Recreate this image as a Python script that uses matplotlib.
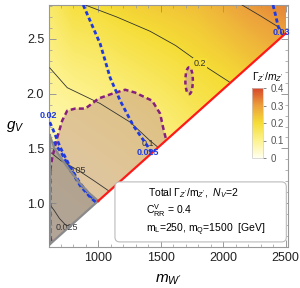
import numpy as np
import matplotlib
matplotlib.use('Agg')
import matplotlib.pyplot as plt
from matplotlib.colors import LinearSegmentedColormap, Normalize
from matplotlib.patches import Polygon, Ellipse, FancyBboxPatch
from matplotlib.cm import ScalarMappable

plt.rcParams['font.family'] = ['Liberation Sans', 'DejaVu Sans']
plt.rcParams['mathtext.fontset'] = 'custom'
plt.rcParams['mathtext.rm'] = 'Liberation Sans'
plt.rcParams['mathtext.it'] = 'Liberation Sans:italic'

m_nodes = [600, 800, 1000, 1200, 1400, 1600, 1800, 2000, 2200, 2400, 2600]
g_nodes = [0.6, 1.0, 1.4, 1.8, 2.2, 2.6, 3.0]
width_table = [
    [.005, .010, .020, .030, .040, .050, .060, .070, .080, .090, .100],
    [.025, .036, .045, .055, .065, .080, .100, .115, .130, .145, .155],
    [.047, .057, .068, .078, .090, .110, .130, .150, .165, .180, .190],
    [.073, .083, .093, .102, .120, .140, .162, .180, .195, .210, .225],
    [.098, .117, .128, .145, .160, .175, .192, .205, .225, .245, .260],
    [.123, .163, .172, .190, .203, .215, .228, .250, .275, .295, .310],
    [.148, .210, .220, .240, .250, .260, .270, .300, .330, .350, .365],
]

# black contour lines of Gamma/m
contours = {
    '0.025': [(612, 0.99), (650, 0.93), (690, 0.86), (740, 0.80), (776, 0.79)],
    '0.05': [(612, 1.47), (700, 1.39), (840, 1.30), (960, 1.21), (1088, 1.11)],
    '0.1': [(612, 2.236), (752, 2.055), (1016, 1.91), (1256, 1.74), (1416, 1.57), (1480, 1.51)],
    '0.2': [(896, 2.81), (1150, 2.70), (1416, 2.57), (1620, 2.44), (1816, 2.28), (2060, 2.10)],
    '0.3': [(2152, 2.81), (2300, 2.71), (2456, 2.60), (2475, 2.53)],
}
contour_labels = {'0.025': (752, 0.78), '0.05': (832, 1.30), '0.1': (1400, 1.545), '0.2': (1816, 2.28)}

# blue dashed curves
blue_curves = {
    '0.025': [(880, 2.81), (1016, 2.455), (1096, 2.145), (1176, 1.936), (1280, 1.71), (1392, 1.527), (1425, 1.46)],
    '0.02': [(612, 1.74), (632, 1.69), (696, 1.51), (776, 1.33), (856, 1.18), (936, 1.07), (985, 1.005)],
    '0.02b': [(640, 1.56), (700, 1.47), (776, 1.31), (856, 1.16), (936, 1.055), (985, 1.005)],
    '0.03': [(2400, 2.81), (2420, 2.72), (2440, 2.62), (2455, 2.57)],
}
blue_labels = {'0.025': (1400, 1.464), '0.02': (600, 1.80), '0.03': (2466, 2.555)}

# purple dashed region boundary
purple_edge = [(616, 1.30), (632, 1.418), (672, 1.60), (712, 1.755), (752, 1.845), (816, 1.864),
               (896, 1.864), (952, 1.91), (1000, 1.955), (1112, 2.0), (1216, 2.036), (1296, 2.01),
               (1432, 1.936), (1496, 1.818), (1520, 1.69), (1545, 1.576)]
island = (1728, 2.118, 60, 0.245)

# gray region boundary curve
gray_edge = [(612, 1.62), (650, 1.50), (744, 1.345), (848, 1.19), (920, 1.10), (1000, 1.02)]

m_min, m_max, g_max = 612, 2500, 2.8
slope = 1.02e-3  # lower kinematic edge g = slope*m

cmap = LinearSegmentedColormap.from_list(
    'solar', [(0, '#fffff0'), (0.25, '#fdf28e'), (0.5, '#f5dd36'), (0.75, '#eca03c'), (1.0, '#d6472a')])
norm = Normalize(0, 0.4)

fig = plt.figure(figsize=(3.0, 2.88), dpi=100)
ax = fig.add_axes([49 / 300, 1 - 247 / 288, 239 / 300, 242 / 288])

dm = m_nodes[1] - m_nodes[0]
dg = g_nodes[1] - g_nodes[0]
im = ax.imshow(np.array(width_table), origin='lower', cmap=cmap, norm=norm, aspect='auto',
               interpolation='bilinear',
               extent=[m_nodes[0] - dm / 2, m_nodes[-1] + dm / 2, g_nodes[0] - dg / 2, g_nodes[-1] + dg / 2],
               zorder=0)
domain = Polygon([(m_min, slope * m_min), (m_min, g_max), (m_max, g_max), (m_max, slope * m_max)],
                 closed=True, transform=ax.transData, facecolor='none', edgecolor='none')
ax.add_patch(domain)
im.set_clip_path(domain)

# purple region (tan fill)
p_poly = purple_edge + [(630, slope * 630), (616, 0.75)]
ax.add_patch(Polygon(p_poly, closed=True, facecolor='#cca58c', alpha=0.6, edgecolor='none', zorder=1))
px, py = zip(*purple_edge)
ax.plot(px, py, color='#86207e', lw=1.8, ls=(0, (2, 1.3)), zorder=4)
ax.plot([616, 616, 626], [1.30, 0.70, 0.645], color='#86207e', lw=1.8, ls=(0, (2, 1.3)), zorder=4)
mc, gc, w, h = island
ax.add_patch(Ellipse((mc, gc), w, h, facecolor='#cca58c', alpha=0.6, edgecolor='none', zorder=1))
ax.add_patch(Ellipse((mc, gc), w, h, facecolor='none', edgecolor='#86207e', lw=1.8,
                     ls=(0, (1.6, 1.3)), zorder=4))

# gray region
g_poly = gray_edge + [(m_min, slope * m_min)]
ax.add_patch(Polygon(g_poly, closed=True, facecolor='#7a7a7a', alpha=0.45, edgecolor='none', zorder=2))
gx, gy = zip(*gray_edge)
ax.plot(gx, gy, color='#8a8a8a', lw=1.6, zorder=5)
ax.plot([m_min, m_min], [slope * m_min, 1.62], color='#8a8a8a', lw=1.6, zorder=5)
ax.plot([m_min, 1000], [slope * m_min, slope * 1000], color='#8a8a8a', lw=1.6, zorder=5)

# black contours
for lev, pts in contours.items():
    x, y = zip(*pts)
    ax.plot(x, y, color='#333333', lw=0.6, zorder=3)
for lev, (x, y) in contour_labels.items():
    bb = dict(boxstyle='square,pad=0.05', fc=cmap(norm(float(lev))), ec='none') if lev == '0.2' else None
    ax.text(x, y, lev, fontsize=6.5, color='#333333', ha='center', va='center', bbox=bb, zorder=3.5)

# blue curves
for name, pts in blue_curves.items():
    x, y = zip(*pts)
    ax.plot(x, y, color='#1f3be0', lw=2.0, ls=(0, (1.5, 1.0)), zorder=4.5)
for lev, (x, y) in blue_labels.items():
    ax.text(x, y, lev, fontsize=6.5, color='#1f3be0', fontweight='bold', ha='center', va='center',
            zorder=6, clip_on=False)

# kinematic edge
ax.plot([1000, m_max], [slope * 1000, slope * m_max], color='#ff1a1a', lw=1.6, zorder=5)

ax.set_xlim(606, 2520)
ax.set_ylim(0.6, 2.81)
ax.set_xticks([1000, 1500, 2000, 2500])
ax.set_xticks(np.arange(700, 2520, 100), minor=True)
ax.set_yticks([1.0, 1.5, 2.0, 2.5])
ax.set_yticks(np.arange(0.7, 2.81, 0.1), minor=True)
ax.tick_params(which='both', direction='in', top=True, right=True, color='#999999', labelsize=9,
               labelcolor='#222222')
ax.tick_params(which='major', length=5, width=0.7)
ax.tick_params(which='minor', length=2.5, width=0.5)
for s in ax.spines.values():
    s.set_color('#999999')
    s.set_linewidth(0.8)

ax.set_xlabel(r"$m_{W'}$", fontsize=11, labelpad=6)
fig.text(15 / 300, 1 - 127 / 288, r"$g_V$", fontsize=11, ha='center', va='center')

# legend box
ax.add_patch(FancyBboxPatch((0.276, 0.021), 0.717, 0.248, boxstyle='round,pad=0,rounding_size=0.02',
                            transform=ax.transAxes, facecolor='white', edgecolor='#bbbbbb', lw=0.8,
                            zorder=7))
ax.text(0.414, 0.223, r"Total $\Gamma_{Z'}/\mathrm{m}_{Z'}$,  $N_V$=2", transform=ax.transAxes,
        fontsize=7.5, va='center', zorder=8)
ax.text(0.404, 0.150, r"C$^{\mathrm{V}}_{\mathrm{RR}}$ = 0.4", transform=ax.transAxes,
        fontsize=7.5, va='center', zorder=8)
ax.text(0.404, 0.070, r"m$_{\mathrm{L}}$=250, m$_{\mathrm{Q}}$=1500  [GeV]", transform=ax.transAxes,
        fontsize=7.5, va='center', zorder=8)

# colour bar
cax = fig.add_axes([252 / 300, 1 - 158 / 288, 11 / 300, 70 / 288])
cb = fig.colorbar(ScalarMappable(norm=norm, cmap=cmap), cax=cax, ticks=[0, 0.1, 0.2, 0.3, 0.4])
cb.ax.set_yticklabels(['0', '0.1', '0.2', '0.3', '0.4'])
cb.ax.tick_params(labelsize=7, colors='#555555', length=2, width=0.5)
cb.outline.set_edgecolor('#cccccc')
cb.outline.set_linewidth(0.5)
fig.text(268 / 300, 1 - 77 / 288, r"$\Gamma_{Z'}/m_{Z'}$", fontsize=7.5, ha='center', va='center')

fig.savefig('out.png', dpi=100)
